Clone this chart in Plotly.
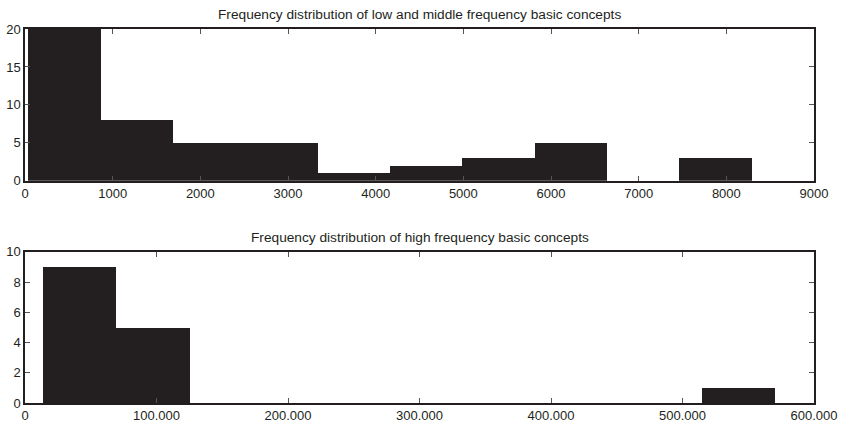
import plotly.graph_objects as go
from plotly.subplots import make_subplots

# Histogram of low and middle frequency concepts (10 equal bins)
low_bin_start = 38
low_bin_width = 825
low_counts = [20, 8, 5, 5, 1, 2, 3, 5, 0, 3]
low_xticks = [0, 1000, 2000, 3000, 4000, 5000, 6000, 7000, 8000, 9000]
low_xlabels = ["0", "1000", "2000", "3000", "4000", "5000", "6000", "7000", "8000", "9000"]
low_yticks = [0, 5, 10, 15, 20]

# Histogram of high frequency concepts (10 equal bins)
high_bin_start = 13900
high_bin_width = 55644
high_counts = [9, 5, 0, 0, 0, 0, 0, 0, 0, 1]
high_xticks = [0, 100000, 200000, 300000, 400000, 500000, 600000]
high_xlabels = ["0", "100.000", "200.000", "300.000", "400.000", "500.000", "600.000"]
high_yticks = [0, 2, 4, 6, 8, 10]

titles = [
    "Frequency distribution of low and middle frequency basic concepts",
    "Frequency distribution of high frequency basic concepts",
]

BAR = "#231f20"
INK = "#231f20"
FONT = "Liberation Sans, Arial, Helvetica, sans-serif"


def centers(start, width, n):
    return [start + width * (i + 0.5) for i in range(n)]


fig = make_subplots(rows=2, cols=1)

fig.add_trace(go.Bar(
    x=centers(low_bin_start, low_bin_width, len(low_counts)),
    y=low_counts, width=low_bin_width,
    marker=dict(color=BAR, line=dict(width=0)),
    showlegend=False), row=1, col=1)

fig.add_trace(go.Bar(
    x=centers(high_bin_start, high_bin_width, len(high_counts)),
    y=high_counts, width=high_bin_width,
    marker=dict(color=BAR, line=dict(width=0)),
    showlegend=False), row=2, col=1)

axis_style = dict(
    showline=True, linecolor=INK, linewidth=1.5, mirror="ticks",
    ticks="inside", ticklen=5, tickwidth=1, tickcolor="#555555",
    showgrid=False, zeroline=False, automargin=False,
    tickfont=dict(family=FONT, size=13, color=INK),
)

fig.update_xaxes(axis_style)
fig.update_yaxes(axis_style)

fig.update_xaxes(range=[0, 9000], tickvals=low_xticks, ticktext=low_xlabels,
                 domain=[0, 1], row=1, col=1)
fig.update_yaxes(range=[0, 20], tickvals=low_yticks, domain=[0.594, 1.0],
                 row=1, col=1)
fig.update_xaxes(range=[0, 600000], tickvals=high_xticks, ticktext=high_xlabels,
                 domain=[0, 1], row=2, col=1)
fig.update_yaxes(range=[0, 10], tickvals=high_yticks, domain=[0.0, 0.404],
                 row=2, col=1)

fig.add_annotation(text=titles[0], xref="paper", yref="paper", x=0.5, y=1.0,
                   yshift=5, xanchor="center", yanchor="bottom", showarrow=False,
                   font=dict(family=FONT, size=13.7, color=INK))
fig.add_annotation(text=titles[1], xref="paper", yref="paper", x=0.5, y=0.404,
                   yshift=5, xanchor="center", yanchor="bottom", showarrow=False,
                   font=dict(family=FONT, size=13.7, color=INK))

fig.update_layout(
    width=842, height=424,
    margin=dict(l=25, r=28, t=29, b=21),
    plot_bgcolor="white", paper_bgcolor="white",
    bargap=0, barmode="overlay",
)

fig.write_html("out.html")
